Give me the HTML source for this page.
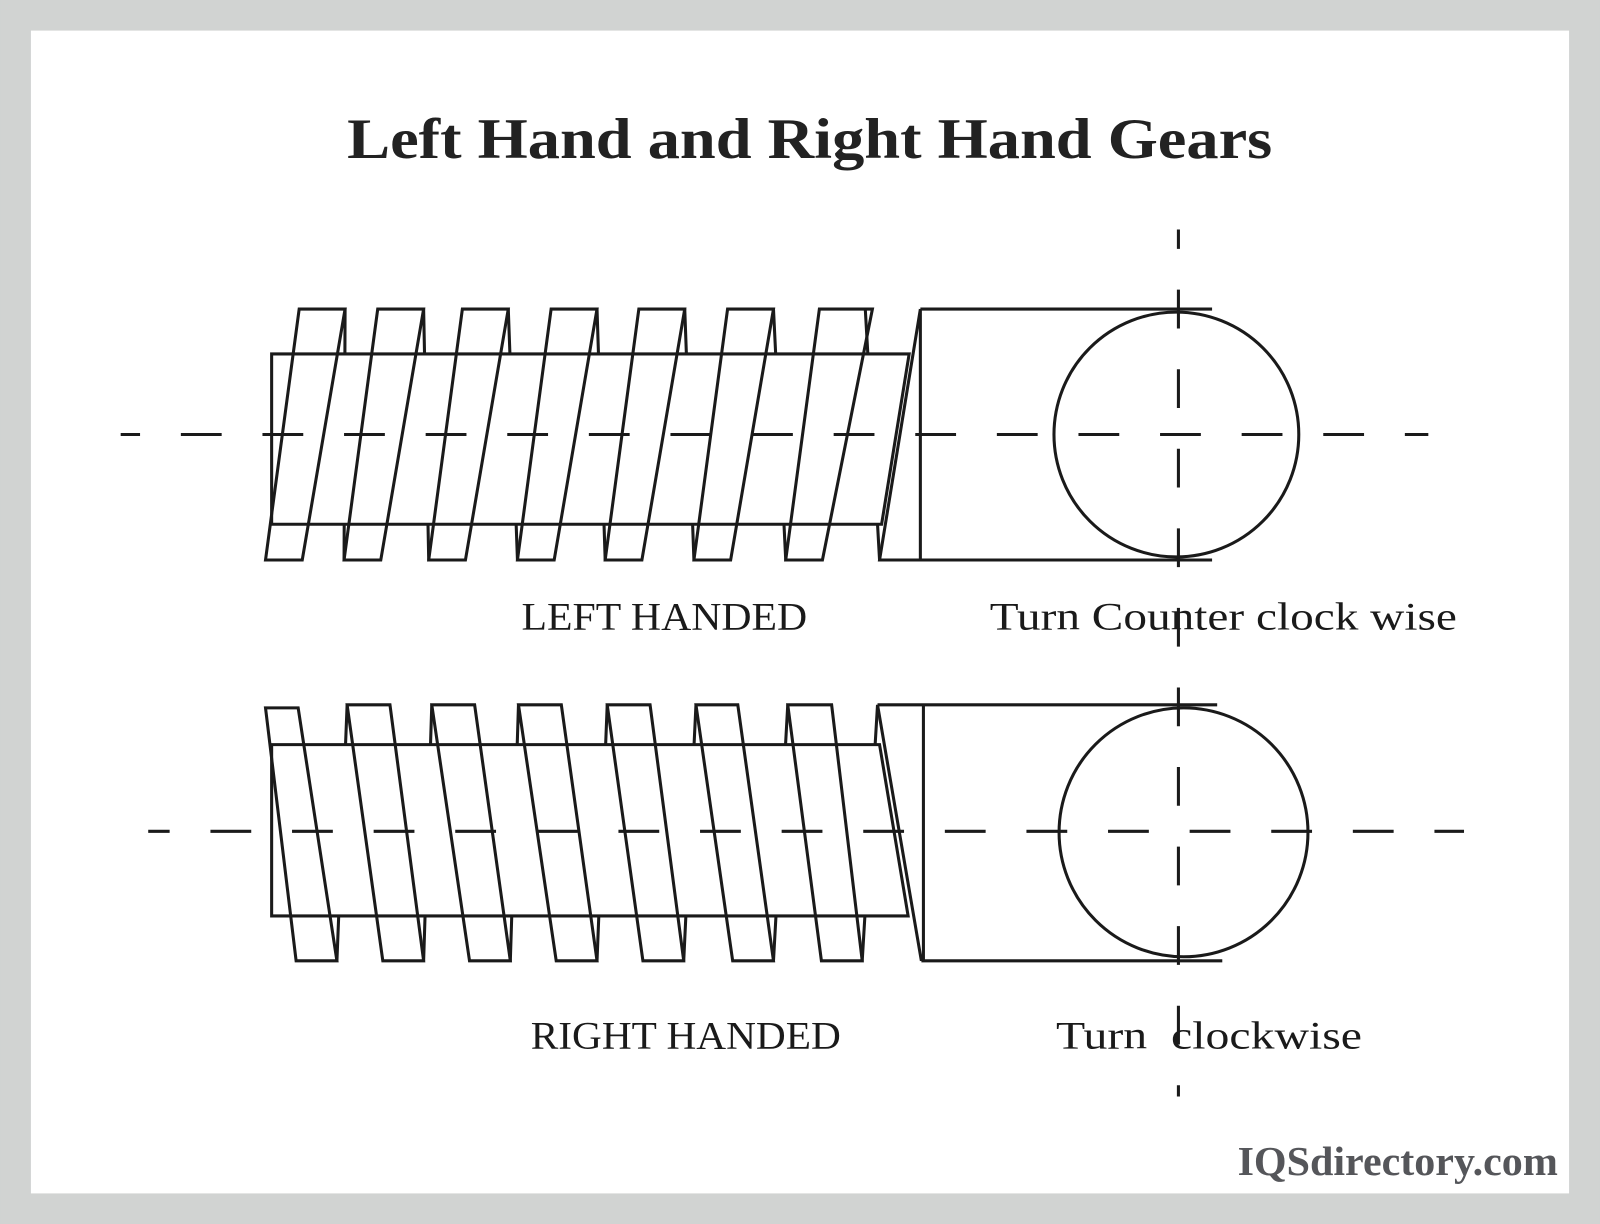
<!DOCTYPE html>
<html><head><style>html,body{margin:0;padding:0;background:#d1d3d2;}svg{display:block}</style></head>
<body>
<svg width="1600" height="1224" viewBox="0 0 1568 1200" xmlns="http://www.w3.org/2000/svg">
<rect x="0" y="0" width="1568" height="1200" fill="#d1d3d2"/>
<rect x="30" y="30" width="1508" height="1140" fill="#fff"/>
<text x="340" y="155" font-family="Liberation Serif, serif" font-weight="bold" font-size="56" fill="#222" textLength="907" lengthAdjust="spacingAndGlyphs">Left Hand and Right Hand Gears</text>

<g stroke="#1a1a1a" stroke-width="3" fill="none" stroke-linejoin="miter">
<!-- TOP GEAR back lines -->
<path d="M338 303L337 549 M415 303L420 549 M498 303L507 549 M585 303L593 549 M671 303L680 549 M758 303L770 549 M848 303L862 549"/>
<!-- root -->
<polygon points="266,347 891,347 864,514 266,514" fill="#fff"/>
<!-- front threads -->
<path d="M293 303H338L296 549H260Z M370 303H415L373 549H337Z M453 303H498L456 549H420Z M540 303H585L543 549H507Z M626 303H671L629 549H593Z M713 303H758L716 549H680Z M803 303H855L806 549H770Z"/>
<path d="M902 303L862 549H902V303 M902 303H1188 M902 549H1188"/>
<circle cx="1153" cy="426" r="120"/>

<!-- BOTTOM GEAR back lines -->
<path d="M330 942L340 691 M415 942L423 691 M500 942L508 691 M585 942L595 691 M670 942L682 691 M758 942L772 691 M845 942L860 691"/>
<polygon points="266,730 862,730 890,898 266,898" fill="#fff"/>
<path d="M260 694H292L330 942H290Z M340 691H382L415 942H375Z M423 691H465L500 942H460Z M508 691H550L585 942H545Z M595 691H637L670 942H630Z M682 691H723L758 942H718Z M772 691H815L845 942H805Z"/>
<path d="M860 691L903 942 M905 691V942 M860 691H1193 M903 942H1198"/>
<circle cx="1160" cy="816" r="122"/>
</g>

<g stroke="#1a1a1a" stroke-width="3" fill="none">
<line x1="118" y1="426" x2="1400" y2="426" stroke-dasharray="40 40" stroke-dashoffset="21"/>
<line x1="145" y1="815" x2="1435" y2="815" stroke-dasharray="40 40" stroke-dashoffset="19"/>
<line x1="1155" y1="225" x2="1155" y2="1075" stroke-dasharray="38 40" stroke-dashoffset="19"/>
</g>

<g font-family="Liberation Serif, serif" font-size="38" fill="#1a1a1a">
<text x="511" y="617" textLength="280" lengthAdjust="spacingAndGlyphs">LEFT HANDED</text>
<text x="970" y="617" textLength="458" lengthAdjust="spacingAndGlyphs">Turn Counter clock wise</text>
<text x="520" y="1028" textLength="304" lengthAdjust="spacingAndGlyphs">RIGHT HANDED</text>
<text x="1035" y="1028" textLength="300" lengthAdjust="spacingAndGlyphs" xml:space="preserve">Turn  clockwise</text>
</g>
<text x="1213" y="1152" font-family="Liberation Serif, serif" font-weight="bold" font-size="40" fill="#55565a" textLength="314" lengthAdjust="spacingAndGlyphs">IQSdirectory.com</text>
</svg>
</body></html>
